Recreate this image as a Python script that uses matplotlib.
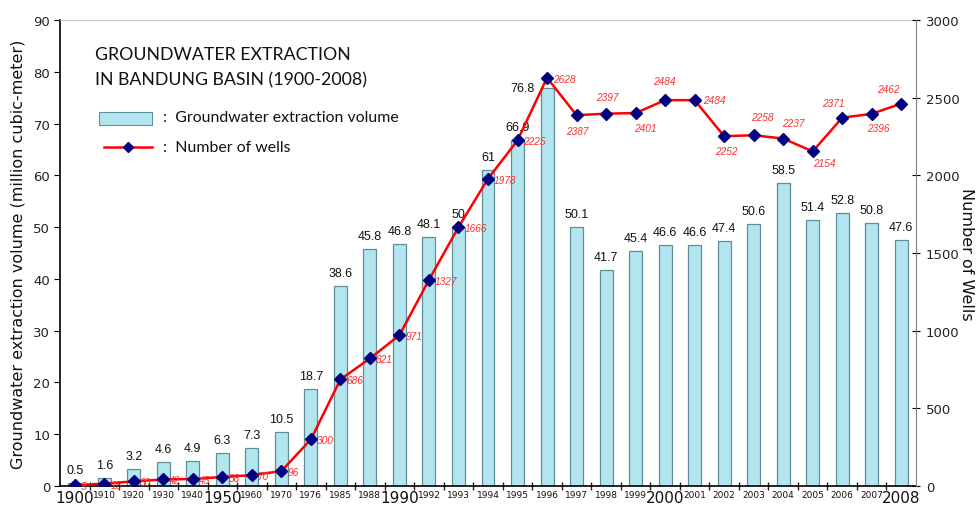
import matplotlib
matplotlib.use("Agg")
import matplotlib.pyplot as plt
from matplotlib.patches import Rectangle
from matplotlib.lines import Line2D

years = ["1900", "1910", "1920", "1930", "1940", "1950", "1960", "1970", "1976",
         "1985", "1988", "1990", "1992", "1993", "1994", "1995", "1996", "1997",
         "1998", "1999", "2000", "2001", "2002", "2003", "2004", "2005", "2006",
         "2007", "2008"]
volume = [0.5, 1.6, 3.2, 4.6, 4.9, 6.3, 7.3, 10.5, 18.7, 38.6, 45.8, 46.8, 48.1,
          50, 61, 66.9, 76.8, 50.1, 41.7, 45.4, 46.6, 46.6, 47.4, 50.6, 58.5,
          51.4, 52.8, 50.8, 47.6]
wells = [5, 15, 30, 42, 45, 58, 70, 96, 300, 686, 821, 971, 1327, 1666, 1978,
         2225, 2628, 2387, 2397, 2401, 2484, 2484, 2252, 2258, 2237, 2154, 2371,
         2396, 2462]
major_years = ["1900", "1950", "1990", "2000", "2008"]
volume_labels = ["0.5", "1.6", "3.2", "4.6", "4.9", "6.3", "7.3", "10.5", "18.7",
                 "38.6", "45.8", "46.8", "48.1", "50", "61", "66.9", "76.8",
                 "50.1", "41.7", "45.4", "46.6", "46.6", "47.4", "50.6", "58.5",
                 "51.4", "52.8", "50.8", "47.6"]

PX = 0.72  # one pixel in points at 100 dpi

# placement of the well-count labels: (dx, dy) in pixels, horizontal alignment
well_label_pos = [(6, -1, "left")] * 17 + [
    (1, -16, "center"),   # 1997
    (1, 17, "center"),    # 1998
    (10, -15, "center"),  # 1999
    (-1, 19, "center"),   # 2000
    (8, 0, "left"),       # 2001
    (2, -15, "center"),   # 2002
    (9, 18, "center"),    # 2003
    (10, 16, "center"),   # 2004
    (12, -12, "center"),  # 2005
    (-9, 15, "center"),   # 2006
    (7, -14, "center"),   # 2007
    (-13, 15, "center"),  # 2008
]

fig = plt.figure(figsize=(9.8, 5.06), dpi=100)
ax = fig.add_axes([60 / 980, 1 - 487 / 506, 856 / 980, 466 / 506])
ax2 = ax.twinx()

x = list(range(len(years)))
bar_face = "#b2e5ee"
bar_edge = "#5f9099"
ax.bar(x, volume, width=0.44, color=bar_face, edgecolor=bar_edge,
       linewidth=0.9, zorder=2)

for i, (v, lab) in enumerate(zip(volume, volume_labels)):
    if years[i] == "1996":
        ax.annotate(lab, (i, v), xytext=(-25 * PX, 0), textcoords="offset points",
                    ha="center", va="center", fontsize=9,
                    family="Liberation Sans", color="#111111")
    else:
        ax.annotate(lab, (i, v), xytext=(0, 13 * PX), textcoords="offset points",
                    ha="center", va="center", fontsize=9,
                    family="Liberation Sans", color="#111111")

ax.set_xlim(-0.5, len(years) - 0.5)
ax.set_ylim(0, 90)
ax.set_yticks(range(0, 91, 10))
ax.set_xticks(x)
ax.set_xticklabels(years)
for lab in ax.get_xticklabels():
    if lab.get_text() in major_years:
        lab.set_fontsize(11)
    else:
        lab.set_fontsize(6.5)
    lab.set_family("DejaVu Sans")
    lab.set_color("#111111")
ax.tick_params(axis="x", which="major", length=0, pad=3)
ax.set_xticks([i + 0.5 for i in x[:-1]], minor=True)
ax.tick_params(axis="x", which="minor", length=6, direction="inout",
               width=1.0, color="#222222")
ax.tick_params(axis="y", labelsize=9.5, length=4, direction="out",
               labelcolor="#222222", pad=3)
ax.set_ylabel("Groundwater extraction volume (million cubic-meter)",
              fontsize=11.5, family="DejaVu Sans", color="#111111",
              va="center")
ax.yaxis.set_label_coords(-42 / 856, 0.5)

ax.spines["top"].set_color("#c8c8c8")
ax.spines["left"].set_color("#000000")
ax.spines["bottom"].set_color("#000000")
ax.spines["left"].set_linewidth(1.2)
ax.spines["bottom"].set_linewidth(1.2)
ax.spines["right"].set_visible(False)

# number of wells on the secondary axis
ax2.plot(x, wells, color="#ff0000", linewidth=1.8, marker="D", markersize=6,
         markerfacecolor="#000080", markeredgecolor="#000080", zorder=4)
for i, (w, (dx, dy, ha)) in enumerate(zip(wells, well_label_pos)):
    ax2.annotate(str(w), (i, w), xytext=(dx * PX, dy * PX),
                 textcoords="offset points", ha=ha, va="center",
                 fontsize=7.3, style="italic", family="Liberation Sans",
                 color="#ff3030", zorder=5)
ax2.set_ylim(0, 3000)
ax2.set_yticks(range(0, 3001, 500))
ax2.tick_params(axis="y", labelsize=9.5, length=6, direction="inout",
                labelcolor="#222222", pad=4)
ax2.set_ylabel("Number of Wells", fontsize=11.5, family="DejaVu Sans",
               rotation=-90, va="center", color="#111111")
ax2.yaxis.set_label_coords(1 + 50 / 856, 0.5)
for s in ["top", "left", "bottom"]:
    ax2.spines[s].set_visible(False)
ax2.spines["right"].set_color("#808080")

# title and legend
title_font = "Lato"
fig.text(95 / 980, 1 - 55 / 506, "GROUNDWATER EXTRACTION", fontsize=12.8,
         family=title_font, va="center", ha="left", color="#111111")
fig.text(95 / 980, 1 - 80 / 506, "IN BANDUNG BASIN (1900-2008)", fontsize=12.8,
         family=title_font, va="center", ha="left", color="#111111")

fig.patches.append(Rectangle((99 / 980, 1 - 126 / 506), 53 / 980, 13 / 506,
                             transform=fig.transFigure, facecolor=bar_face,
                             edgecolor=bar_edge, linewidth=0.8))
fig.text(163 / 980, 1 - 118 / 506, ":  Groundwater extraction volume",
         fontsize=11.4, family=title_font, va="center", ha="left", color="#111111")
fig.lines.append(Line2D([104 / 980, 152 / 980], [1 - 148 / 506, 1 - 148 / 506],
                        transform=fig.transFigure, color="#ff0000", linewidth=1.8))
fig.lines.append(Line2D([128 / 980], [1 - 148 / 506], transform=fig.transFigure,
                        marker="D", markersize=5.5, color="#000080", linestyle=""))
fig.text(163 / 980, 1 - 148 / 506, ":  Number of wells",
         fontsize=11.4, family=title_font, va="center", ha="left", color="#111111")

fig.savefig("out.png", dpi=100)
